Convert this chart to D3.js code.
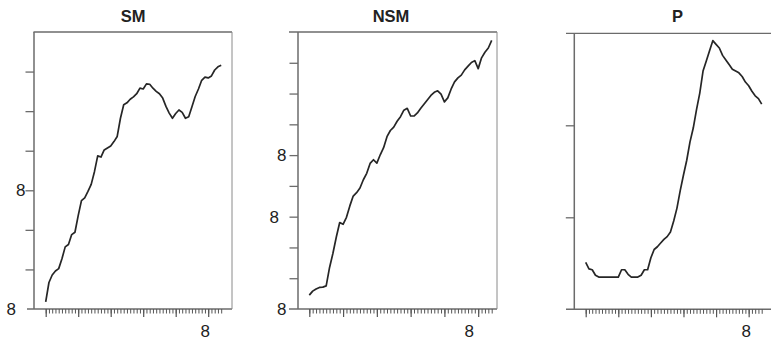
<!DOCTYPE html>
<html>
<head>
<meta charset="utf-8">
<script src="https://cdn.jsdelivr.net/npm/d3@7/dist/d3.min.js"></script>
<style>
  html, body { margin: 0; padding: 0; background: #fff; }
  svg { display: block; font-family: "Liberation Sans", Arial, Helvetica, sans-serif; }
</style>
</head>
<body>
<svg id="chart" width="771" height="340"></svg>
<script>
// ---------- data ----------
const panelTitles = ["SM", "NSM", "P"];
const periods = d3.range(0, 55);            // 55 observations per panel
const xMajorTicks = [0, 10, 20, 30, 40, 50];
const xTickLabels = ["", "", "", "", "", "8"];

const smValues = [0.18, 0.67, 0.86, 0.96, 1.02, 1.27, 1.57, 1.63, 1.88, 1.94,
  2.36, 2.74, 2.81, 2.97, 3.15, 3.47, 3.87, 3.84, 4.02, 4.07,
  4.12, 4.23, 4.36, 4.82, 5.16, 5.21, 5.30, 5.36, 5.44, 5.58,
  5.56, 5.69, 5.68, 5.58, 5.50, 5.44, 5.33, 5.12, 4.95, 4.82,
  4.94, 5.03, 4.97, 4.82, 4.86, 5.11, 5.37, 5.56, 5.78, 5.86,
  5.84, 5.89, 6.04, 6.12, 6.16];

const nsmValues = [0.45, 0.58, 0.65, 0.70, 0.71, 0.75, 1.35, 1.81, 2.34, 2.81,
  2.75, 2.98, 3.35, 3.67, 3.78, 3.93, 4.20, 4.41, 4.73, 4.85,
  4.74, 5.01, 5.24, 5.60, 5.80, 5.91, 6.10, 6.25, 6.46, 6.52,
  6.27, 6.27, 6.37, 6.52, 6.66, 6.80, 6.94, 7.04, 7.09, 6.98,
  6.73, 6.86, 7.15, 7.38, 7.51, 7.60, 7.77, 7.89, 8.01, 8.07,
  7.81, 8.16, 8.34, 8.48, 8.73];

const pValues = [0.51, 0.44, 0.43, 0.37, 0.35, 0.35, 0.35, 0.35, 0.35, 0.35,
  0.35, 0.43, 0.43, 0.38, 0.35, 0.35, 0.35, 0.37, 0.43, 0.43,
  0.56, 0.65, 0.68, 0.72, 0.76, 0.79, 0.84, 0.96, 1.10, 1.29,
  1.46, 1.62, 1.82, 1.97, 2.17, 2.35, 2.59, 2.70, 2.81, 2.92,
  2.88, 2.84, 2.76, 2.71, 2.66, 2.61, 2.59, 2.57, 2.53, 2.47,
  2.43, 2.37, 2.32, 2.29, 2.23];

const smYMax = 7,  smYTicks = [1, 2, 3, 4, 5, 6],          smYLabelValues = [0, 3];
const nsmYMax = 9, nsmYTicks = [1, 2, 3, 4, 5, 6, 7, 8],   nsmYLabelValues = [0, 3, 5];
const pYMax = 3,   pYTicks = [1, 2],                       pYLabelValues = [];
const yLabelText = "8";

// ---------- layout ----------
const panels = [
  { title: panelTitles[0], titleX: 133, values: smValues, yMax: smYMax, yTicks: smYTicks,
    yLabels: smYLabelValues, yLabelX: {0: 16, 3: 25.5},
    left: 34, right: 232, top: 32, bottom: 309, x0: 45.7, x1: 221.2,
    topStart: 33.5, bottomStart: 27, rightBorder: true, xLabelDx: -3 },
  { title: panelTitles[1], titleX: 391, values: nsmValues, yMax: nsmYMax, yTicks: nsmYTicks,
    yLabels: nsmYLabelValues, yLabelX: {0: 286.5, 3: 279, 5: 286.5},
    left: 298, right: 497, top: 32, bottom: 309, x0: 309.3, x1: 491.7,
    topStart: 289, bottomStart: 289, rightBorder: true, xLabelDx: -9 },
  { title: panelTitles[2], titleX: 677.5, values: pValues, yMax: pYMax, yTicks: pYTicks,
    yLabels: pYLabelValues, yLabelX: {},
    left: 574.3, right: 771, top: 33.3, bottom: 309.3, x0: 585.7, x1: 761.7,
    topStart: 566, bottomStart: 566, rightBorder: false, xLabelDx: -2.5 }
];

const svg = d3.select("#chart");
const frameColor = "#6b6b6b";

panels.forEach(p => {
  const x = d3.scaleLinear().domain([0, 54]).range([p.x0, p.x1]);
  const y = d3.scaleLinear().domain([0, p.yMax]).range([p.bottom, p.top]);
  const g = svg.append("g");

  // frame lines
  g.append("line").attr("x1", p.topStart).attr("x2", p.right).attr("y1", p.top).attr("y2", p.top)
    .attr("stroke", frameColor).attr("stroke-width", 1.3);
  g.append("line").attr("x1", p.bottomStart).attr("x2", p.right).attr("y1", p.bottom).attr("y2", p.bottom)
    .attr("stroke", frameColor).attr("stroke-width", 1.5);
  g.append("line").attr("x1", p.left).attr("x2", p.left).attr("y1", p.top).attr("y2", p.bottom)
    .attr("stroke", frameColor).attr("stroke-width", 1.5);
  if (p.rightBorder) {
    g.append("line").attr("x1", p.right).attr("x2", p.right).attr("y1", p.top).attr("y2", p.bottom)
      .attr("stroke", "#8a8a8a").attr("stroke-width", 1);
  }

  // y ticks
  const yAxis = d3.axisLeft(y).tickValues(p.yTicks).tickSize(8.5).tickFormat("");
  const ya = g.append("g").attr("transform", `translate(${p.left},0)`).call(yAxis);
  ya.select(".domain").remove();
  ya.selectAll("line").attr("stroke", frameColor).attr("stroke-width", 1.3);

  // y labels
  g.selectAll("text.ylab").data(p.yLabels).enter().append("text")
    .attr("class", "ylab")
    .attr("x", d => p.yLabelX[d])
    .attr("y", d => y(d))
    .attr("dy", "0.36em")
    .attr("text-anchor", "end")
    .attr("font-size", 17)
    .attr("fill", "#222")
    .text(yLabelText);

  // x minor ticks
  const xMinor = d3.axisBottom(x).tickValues(periods).tickSize(4.5).tickFormat("");
  const xm = g.append("g").attr("transform", `translate(0,${p.bottom})`).call(xMinor);
  xm.select(".domain").remove();
  xm.selectAll("line").attr("stroke", "#555").attr("stroke-width", 1);

  // x major ticks
  const xMajor = d3.axisBottom(x).tickValues(xMajorTicks).tickSize(8).tickFormat("");
  const xM = g.append("g").attr("transform", `translate(0,${p.bottom})`).call(xMajor);
  xM.select(".domain").remove();
  xM.selectAll("line").attr("stroke", "#555").attr("stroke-width", 1.2);

  // x labels
  g.selectAll("text.xlab").data(xMajorTicks.map((v, i) => ({v, t: xTickLabels[i]})).filter(d => d.t))
    .enter().append("text")
    .attr("class", "xlab")
    .attr("x", d => x(d.v) + p.xLabelDx)
    .attr("y", 337)
    .attr("text-anchor", "middle")
    .attr("font-size", 17)
    .attr("fill", "#222")
    .text(d => d.t);

  // series line
  const line = d3.line().x((d, i) => x(periods[i])).y(d => y(d));
  g.append("path").datum(p.values)
    .attr("d", line)
    .attr("fill", "none")
    .attr("stroke", "#262626")
    .attr("stroke-width", 1.7)
    .attr("stroke-linejoin", "round");

  // title
  svg.append("text")
    .attr("x", p.titleX).attr("y", 21.5)
    .attr("text-anchor", "middle")
    .attr("font-size", 16.5)
    .attr("font-weight", "bold")
    .attr("fill", "#222")
    .text(p.title);
});
</script>
</body>
</html>
